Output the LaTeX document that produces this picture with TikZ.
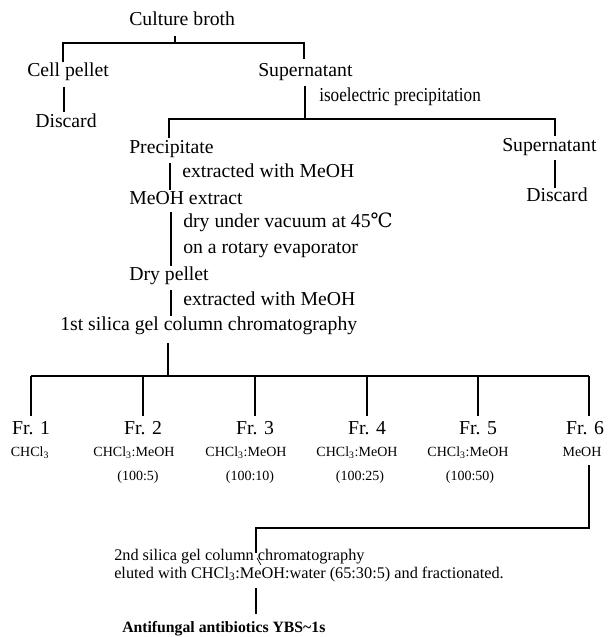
\documentclass[tikz,border=0pt]{standalone}
\usepackage{fontspec}
\setmainfont{Liberation Serif}
\newfontfamily\narrowfont[FakeStretch=0.87]{Liberation Serif}
\newfontfamily\celsiusfont{DejaVu Serif}
\begin{document}
\begin{tikzpicture}[x=0.75pt,y=-0.75pt,
  lbl/.style={inner sep=0pt,anchor=base west,font=\fontsize{14.8}{16}\selectfont},
  frlbl/.style={inner sep=0pt,anchor=base,font=\fontsize{14.8}{16}\selectfont},
  sol/.style={inner sep=0pt,anchor=base,font=\fontsize{10.5}{12}\selectfont},
  low/.style={inner sep=0pt,anchor=base west,font=\fontsize{12.2}{14}\selectfont},
  fin/.style={inner sep=0pt,anchor=base west,font=\fontsize{11.8}{13}\selectfont\bfseries},
  conn/.style={line width=1.1pt,line cap=butt}]
\useasboundingbox (0,0) rectangle (610,637);
% texts
\node[lbl] (broth) at (129,25) {Culture broth};
\node[lbl] (cell) at (27,76) {Cell pellet};
\node[lbl] (sup1) at (258,76) {Supernatant};
\node[lbl] (dis1) at (35,127) {Discard};
\node[lbl,font=\fontsize{14.8}{16}\narrowfont] (iso) at (319,101) {isoelectric precipitation};
\node[lbl] (prec) at (129,153) {Precipitate};
\node[lbl] (sup2) at (502,151) {Supernatant};
\node[lbl,anchor=base] (dis2) at (557,201) {Discard};
\node[lbl] (ext1) at (182,177) {extracted with MeOH};
\node[lbl] (mext) at (129,204) {MeOH extract};
\node[lbl] (dry) at (183,227) {dry under vacuum at 45{\celsiusfont ℃}};
\node[lbl] (rot) at (183,253) {on a rotary evaporator};
\node[lbl] (dpel) at (129,280) {Dry pellet};
\node[lbl] (ext2) at (183,305) {extracted with MeOH};
\node[lbl] (sil1) at (60,330) {1st silica gel column chromatography};
% fractions
\node[frlbl] (fr1) at (31,434) {Fr. 1};
\node[frlbl] (fr2) at (143,434) {Fr. 2};
\node[frlbl] (fr3) at (255,434) {Fr. 3};
\node[frlbl] (fr4) at (367,434) {Fr. 4};
\node[frlbl] (fr5) at (478,434) {Fr. 5};
\node[frlbl] (fr6) at (585,434) {Fr. 6};
\node[sol] (s1) at (30,456) {CHCl\textsubscript{3}};
\node[sol] (s2) at (134,456) {CHCl\textsubscript{3}:MeOH};
\node[sol] (s3) at (246,456) {CHCl\textsubscript{3}:MeOH};
\node[sol] (s4) at (357,456) {CHCl\textsubscript{3}:MeOH};
\node[sol] (s5) at (468,456) {CHCl\textsubscript{3}:MeOH};
\node[sol] (s6) at (582,456) {MeOH};
\node[sol] (r2) at (138,480) {(100:5)};
\node[sol] (r3) at (250,480) {(100:10)};
\node[sol] (r4) at (360,480) {(100:25)};
\node[sol] (r5) at (470,480) {(100:50)};
% bottom
\node[low] (sil2) at (114,560) {2nd silica gel column chromatography};
\node[low] (elu) at (114,578) {eluted with CHCl\textsubscript{3}:MeOH:water (65:30:5) and fractionated.};
\node[fin] (anti) at (122,632) {Antifungal antibiotics YBS\textasciitilde1s};
% junction coordinates
\coordinate (b0) at (175,36); \coordinate (b1) at (175,43);
\coordinate (bl) at (63,43); \coordinate (br) at (304,43);
\coordinate (blend) at (63,62); \coordinate (brend) at (304,59);
\coordinate (c0) at (64,87); \coordinate (c1) at (64,112);
\coordinate (s0) at (305,86); \coordinate (s1j) at (305,119);
\coordinate (pl) at (169,119); \coordinate (pr) at (555,119);
\coordinate (plend) at (169,138); \coordinate (prend) at (555,136);
\coordinate (d0) at (555,160); \coordinate (d1) at (555,188);
\coordinate (e0) at (170,163); \coordinate (e1) at (170,190);
\coordinate (m0) at (171,212); \coordinate (m1) at (171,266);
\coordinate (p0) at (171,290); \coordinate (p1) at (171,316);
\coordinate (k0) at (168,343); \coordinate (k1) at (168,376);
\coordinate (kl) at (31,376); \coordinate (kr) at (589,376);
\coordinate (f1) at (31,416); \coordinate (f2) at (143,416); \coordinate (f3) at (255,416);
\coordinate (f4) at (367,416); \coordinate (f5) at (478,416); \coordinate (f6) at (589,416);
\coordinate (g0) at (589,465); \coordinate (g1) at (589,528);
\coordinate (gl) at (256,528); \coordinate (glend) at (256,553);
\coordinate (t0) at (257,558); \coordinate (t1) at (261,565);
\coordinate (h0) at (256,588); \coordinate (h1) at (256,614);
% connectors
\draw[conn] (b0) -- (b1);
\draw[conn] (blend) -- (bl) -- (br) -- (brend);
\draw[conn] (c0) -- (c1);
\draw[conn] (s0) -- (s1j);
\draw[conn] (plend) -- (pl) -- (pr) -- (prend);
\draw[conn] (d0) -- (d1);
\draw[conn] (e0) -- (e1);
\draw[conn] (m0) -- (m1);
\draw[conn] (p0) -- (p1);
\draw[conn] (k0) -- (k1);
\draw[conn] (kl) -- (kr);
\draw[conn] (kl) -- (f1);
\draw[conn] (f2 |- kl) -- (f2);
\draw[conn] (f3 |- kl) -- (f3);
\draw[conn] (f4 |- kl) -- (f4);
\draw[conn] (f5 |- kl) -- (f5);
\draw[conn] (kr) -- (f6);
\draw[conn] (g0) -- (g1) -- (gl) -- (glend);
\draw[line width=0.5pt] (t0) -- (t1);
\draw[conn] (h0) -- (h1);
\end{tikzpicture}
\end{document}
